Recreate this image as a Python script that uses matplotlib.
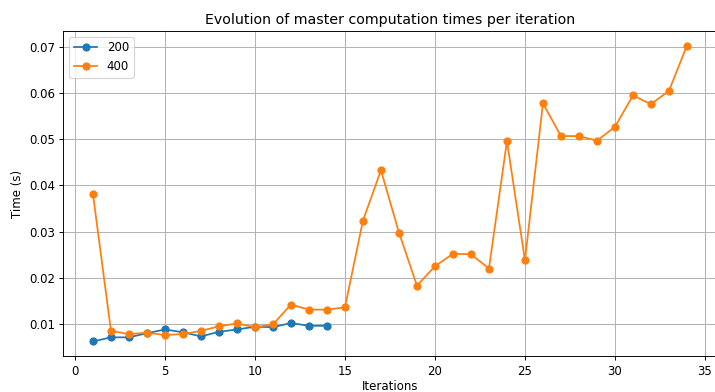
import matplotlib
matplotlib.use("Agg")
import matplotlib.pyplot as plt

# master times for the two problem sizes
iters_200 = list(range(1, 15))
times_200 = [0.0062, 0.0071, 0.0071, 0.0080, 0.0088, 0.0082, 0.0073,
             0.0083, 0.0088, 0.0094, 0.0093, 0.0102, 0.0096, 0.0096]

iters_400 = list(range(1, 35))
times_400 = [0.0381, 0.0085, 0.0078, 0.0081, 0.0076, 0.0078, 0.0085,
             0.0095, 0.0101, 0.0093, 0.0099, 0.0142, 0.0131, 0.0131,
             0.0136, 0.0324, 0.0433, 0.0298, 0.0183, 0.0225, 0.0252,
             0.0251, 0.0220, 0.0496, 0.0238, 0.0578, 0.0507, 0.0507,
             0.0497, 0.0527, 0.0595, 0.0576, 0.0605, 0.0703]

DPI = 84.5
fig = plt.figure(figsize=(715 / DPI, 392 / DPI), dpi=DPI)
ax = fig.add_axes([0.0885, 0.0911, 0.9138, 0.8303])

ax.plot(iters_200, times_200, marker='o', label='200')
ax.plot(iters_400, times_400, marker='o', label='400')

ax.set_title("Evolution of master computation times per iteration")
ax.set_xlabel("Iterations", labelpad=2.5)
ax.set_ylabel("Time (s)")
ax.grid(True)
ax.legend(loc='upper left')

fig.savefig("out.png", dpi=DPI)
